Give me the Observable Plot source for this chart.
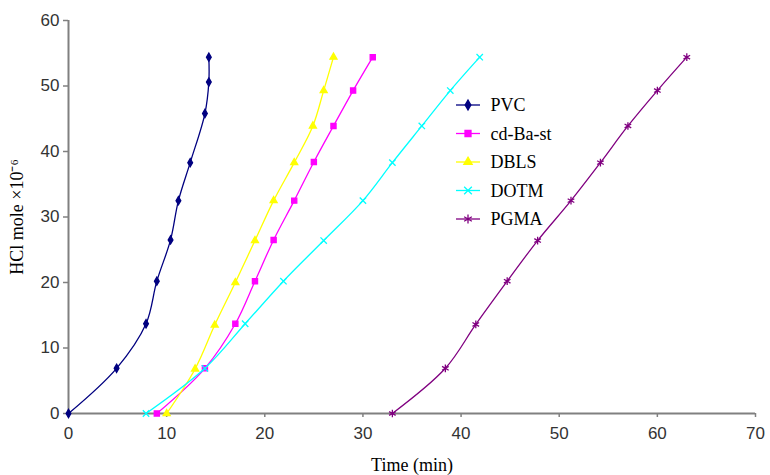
<!DOCTYPE html>
<html><head><meta charset="utf-8">
<script src="https://cdn.jsdelivr.net/npm/d3@7"></script>
<script src="https://cdn.jsdelivr.net/npm/@observablehq/plot@0.6"></script>
<style>
body{margin:0;background:#fff;}
#wrap{position:relative;width:770px;height:475px;}
</style>
</head><body>
<div id="wrap"><div id="chart"></div></div>
<script>
const series = ["PVC","cd-Ba-st","DBLS","DOTM","PGMA"];
const colors = ["#000080","#FF00FF","#FFFF00","#00FFFF","#800080"];
const symbols = ["diamond","square","triangle","times","asterisk"];
const pvcX = [0,4.9,7.9,9.0,10.4,11.2,12.4,13.9,14.3,14.3];
const pvcY = [0,6.9,13.7,20.2,26.5,32.5,38.3,45.8,50.6,54.4];
const cdX = [9.0,13.9,17.0,19.0,20.9,23.0,25.0,27.0,29.0,31.0];
const cdY = [0,6.9,13.7,20.2,26.5,32.5,38.4,43.9,49.3,54.4];
const dblsX = [10.0,12.9,14.9,17.0,19.0,20.9,23.0,24.9,26.0,27.0];
const dblsY = [0,6.8,13.5,20.0,26.4,32.5,38.3,43.9,49.3,54.4];
const dotmX = [7.9,13.9,18.0,21.9,26.0,30.0,33.0,36.0,38.9,41.9];
const dotmY = [0,6.9,13.7,20.2,26.4,32.5,38.3,43.9,49.3,54.4];
const pgmaX = [33.0,38.4,41.5,44.7,47.8,51.2,54.2,57.0,60.0,63.0];
const pgmaY = [0,6.9,13.6,20.2,26.4,32.5,38.3,43.9,49.3,54.4];
const xTicks = [0,10,20,30,40,50,60,70];
const yTicks = [0,10,20,30,40,50,60];

const xs = [pvcX,cdX,dblsX,dotmX,pgmaX];
const ys = [pvcY,cdY,dblsY,dotmY,pgmaY];
const sizes = [2.5,2.9,2.6,3.0,3.6];
const data = [];
series.forEach((s,i)=>xs[i].forEach((x,j)=>data.push({series:s,x,y:ys[i][j]})));

const marks = [
  Plot.ruleY([0],{stroke:"#808080",strokeWidth:2}),
  Plot.ruleX([0],{stroke:"#808080",strokeWidth:2}),
  Plot.axisX({ticks:xTicks,tickSize:4,stroke:"#808080",strokeWidth:1.5,fill:"#333",fontSize:17,fontFamily:"Liberation Sans",tickPadding:9,label:null}),
  Plot.axisY({ticks:yTicks,tickSize:5,stroke:"#808080",strokeWidth:1.5,fill:"#333",fontSize:17,fontFamily:"Liberation Sans",tickPadding:4,label:null}),
  Plot.axisX({ticks:[],tickSize:0,label:"Time (min)",labelAnchor:"center",labelArrow:"none",labelOffset:57,fontFamily:"Liberation Serif",fontSize:18,fill:"#000"}),
  Plot.axisY({ticks:[],tickSize:0,label:"HCl mole ×10⁻⁶",labelAnchor:"center",labelArrow:"none",labelOffset:58,fontFamily:"Liberation Serif",fontSize:18,fill:"#000"})
];
series.forEach((s,i)=>{
  const d = data.filter(r=>r.series===s);
  marks.push(Plot.line(d,{x:"x",y:"y",stroke:colors[i],strokeWidth:1.3,curve:"catmull-rom"}));
  marks.push(Plot.dot(d,{x:"x",y:"y",symbol:()=>symbols[i],fill:colors[i],stroke:colors[i],strokeWidth:1.3,r:sizes[i]}));
});
// legend labels (frame-anchored text, offsets from the plot frame's top-left)
series.forEach((s,i)=>{
  marks.push(Plot.text([s],{text:d=>d,frameAnchor:"top-left",dx:490-68,dy:105-20+i*28.5,textAnchor:"start",lineAnchor:"middle",fontFamily:"Liberation Serif",fontSize:18,fill:"#000"}));
});

const chart = Plot.plot({
  width:770,height:475,
  marginLeft:68,marginRight:15,marginTop:20,marginBottom:62,
  x:{domain:[0,70]},
  y:{domain:[0,60]},
  style:{background:"#fff",fontFamily:"Liberation Serif",color:"#000"},
  marks
});
document.getElementById("chart").appendChild(chart);

// legend swatches drawn into the SVG
const d3sym = [d3.symbolDiamond,d3.symbolSquare,d3.symbolTriangle,d3.symbolTimes,d3.symbolAsterisk];
const legSizes = [28,36,30,40,55];
const lg = d3.select(chart).append("g").attr("transform","translate(456,105)");
series.forEach((s,i)=>{
  const row = lg.append("g").attr("transform",`translate(0,${i*28.5})`);
  row.append("line").attr("x1",0).attr("x2",24).attr("stroke",colors[i]).attr("stroke-width",1.3);
  row.append("path").attr("d",d3.symbol(d3sym[i],legSizes[i])()).attr("transform","translate(12,0)").attr("fill",colors[i]).attr("stroke",colors[i]).attr("stroke-width",1.3);
});
</script>
</body></html>
